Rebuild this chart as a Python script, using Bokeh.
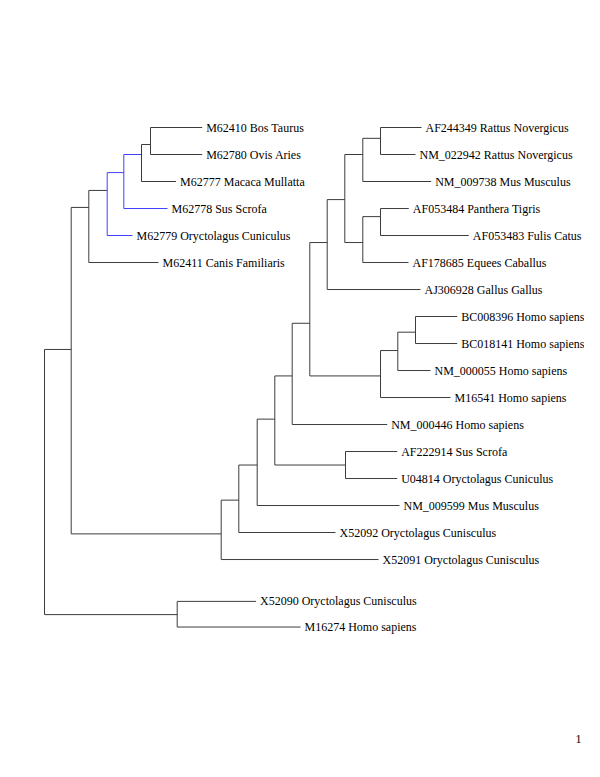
from bokeh.plotting import figure
from bokeh.models import ColumnDataSource, Range1d, Label
from bokeh.core.properties import value
from bokeh.embed import file_html
from bokeh.resources import INLINE

# ---- tree data: node id, parent, distance from root, vertical row position ----
node_ids = [
    "root", "n71", "n88", "n107", "n123", "n141", "n150",
    "n221", "n238", "n257", "n274", "n292", "n309", "n327", "n344",
    "n362a", "n380a", "n362b", "n380b", "n380c", "n397", "n415", "n345", "n177",
    "L1", "L2", "L3", "L4", "L5", "L6",
    "L7", "L8", "L9", "L10", "L11", "L12", "L13", "L14", "L15", "L16", "L17",
    "L18", "L19", "L20", "L21", "L22", "L23", "L24", "L25",
]
node_parent = [
    None, "root", "n71", "n88", "n107", "n123", "n141",
    "n71", "n221", "n238", "n257", "n274", "n292", "n309", "n327",
    "n344", "n362a", "n344", "n362b", "n309", "n380c", "n397", "n274", "root",
    "n150", "n150", "n141", "n123", "n107", "n88",
    "n380a", "n380a", "n362a", "n380b", "n380b", "n362b", "n327", "n415", "n415", "n397", "n380c",
    "n292", "n345", "n345", "n257", "n238", "n221", "n177", "n177",
]
node_dist = [
    0.0, 26.7, 44.3, 62.7, 79.3, 97.0, 106.0,
    176.7, 194.3, 212.7, 230.3, 247.7, 265.3, 282.7, 300.3,
    318.3, 336.0, 318.3, 336.0, 336.0, 353.3, 371.0, 301.0, 132.7,
    157.7, 157.7, 131.6, 123.0, 88.0, 114.0,
    377.0, 371.0, 386.7, 364.3, 424.3, 364.0, 376.0, 412.7, 412.7, 386.0, 406.0,
    342.7, 352.7, 352.7, 355.0, 291.0, 334.0, 211.5, 256.0,
]
node_row = [
    None, 8.22, 2.96, 2.33, 1.67, 1.0, 0.63,
    15.05, 13.8, 12.5, 10.8, 9.2, 7.25, 4.26, 2.67,
    1.0, 0.4, 4.26, 3.3, 9.2, 8.26, 7.58, 12.5, 18.04,
    0, 1, 2, 3, 4, 5,
    0, 1, 2, 3, 4, 5, 6, 7, 8, 9, 10,
    11, 12, 13, 14, 15, 16, 17.55, 18.5,
]
leaf_labels = {
    "L1": "M62410 Bos Taurus",
    "L2": "M62780 Ovis Aries",
    "L3": "M62777 Macaca Mullatta",
    "L4": "M62778 Sus Scrofa",
    "L5": "M62779 Oryctolagus Cuniculus",
    "L6": "M62411 Canis Familiaris",
    "L7": "AF244349 Rattus Novergicus",
    "L8": "NM_022942 Rattus Novergicus",
    "L9": "NM_009738 Mus Musculus",
    "L10": "AF053484 Panthera Tigris",
    "L11": "AF053483 Fulis Catus",
    "L12": "AF178685 Equees Caballus",
    "L13": "AJ306928 Gallus Gallus",
    "L14": "BC008396 Homo sapiens",
    "L15": "BC018141 Homo sapiens",
    "L16": "NM_000055 Homo sapiens",
    "L17": "M16541 Homo sapiens",
    "L18": "NM_000446 Homo sapiens",
    "L19": "AF222914 Sus Scrofa",
    "L20": "U04814 Oryctolagus Cuniculus",
    "L21": "NM_009599 Mus Musculus",
    "L22": "X52092 Oryctolagus Cunisculus",
    "L23": "X52091 Oryctolagus Cunisculus",
    "L24": "X52090 Oryctolagus Cunisculus",
    "L25": "M16274 Homo sapiens",
}
highlight_nodes = ["n107", "n123"]
page_number = "1"

GRAY = "#3c3c3c"
BLUE = "#4040ff"

dist = dict(zip(node_ids, node_dist))
row = dict(zip(node_ids, node_row))
children = {}
for nid, par in zip(node_ids, node_parent):
    if par is not None:
        children.setdefault(par, []).append(nid)

x0, y0, x1, y1, col = [], [], [], [], []
# horizontal branches
for nid, par in zip(node_ids, node_parent):
    if par is None:
        continue
    x0.append(dist[par]); x1.append(dist[nid])
    y0.append(row[nid]); y1.append(row[nid])
    col.append(BLUE if par in highlight_nodes else GRAY)
# vertical connectors
for nid, kids in children.items():
    ys = [row[k] for k in kids]
    x0.append(dist[nid]); x1.append(dist[nid])
    y0.append(min(ys)); y1.append(max(ys))
    col.append(BLUE if nid in highlight_nodes else GRAY)

seg = ColumnDataSource(dict(x0=x0, y0=y0, x1=x1, y1=y1, color=col))

lx = [dist[k] for k in leaf_labels]
ly = [row[k] for k in leaf_labels]
lt = list(leaf_labels.values())
lab = ColumnDataSource(dict(x=lx, y=ly, text=lt))

p = figure(width=584, height=761, output_backend="svg", toolbar_location=None,
           x_range=Range1d(-44, 540), y_range=Range1d(23.48, -4.704),
           min_border=0)
p.axis.visible = False
p.grid.visible = False
p.outline_line_color = None
p.background_fill_color = "white"

p.segment("x0", "y0", "x1", "y1", source=seg, line_color="color", line_width=1)
p.text("x", "y", text="text", source=lab, x_offset=4,
       text_font=value("Liberation Serif"), text_font_size="12px",
       text_baseline="middle", text_align="left", text_color="black")

p.add_layout(Label(x=534, y=22.63, text=page_number, text_font="Liberation Serif",
                   text_font_size="12px", text_align="center", text_baseline="middle",
                   text_color="black"))

open("out.html", "w").write(file_html(p, INLINE))
